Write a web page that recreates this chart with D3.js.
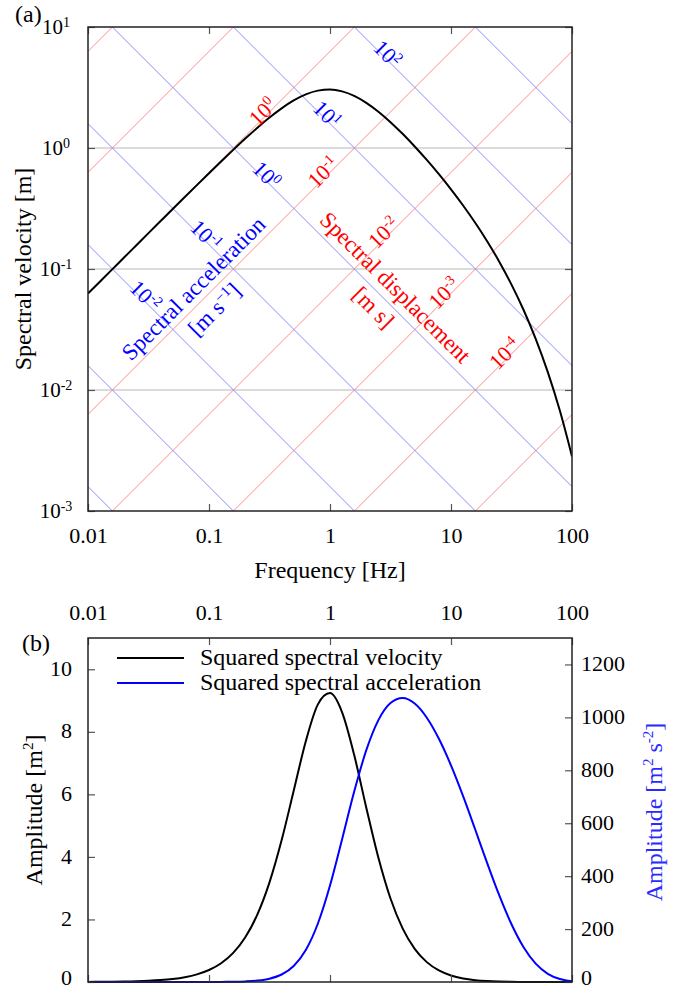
<!DOCTYPE html>
<html>
<head>
<meta charset="utf-8">
<script src="https://cdn.jsdelivr.net/npm/d3@7"></script>
<style>
body { margin: 0; background: #fff; }
svg, svg text { font-family: "Liberation Serif", "Times New Roman", Times, serif; }
</style>
</head>
<body>
<div id="chart"></div>
<script>
// values
let freq = [0.01, 0.01259, 0.01585, 0.01995, 0.02512, 0.03162, 0.03981, 0.05012, 0.0631, 0.07943,
    0.1, 0.1259, 0.1585, 0.1995, 0.2512, 0.3162, 0.3981, 0.5012, 0.631, 0.7943,
    1, 1.259, 1.585, 1.995, 2.512, 3.162, 3.981, 5.012, 6.31, 7.943,
    10, 12.59, 15.85, 19.95, 25.12, 31.62, 39.81, 50.12, 63.1, 79.43, 100];

let spectralVelocity = [0.0627, 0.0789, 0.0993, 0.125, 0.1573, 0.1979, 0.2489, 0.313, 0.3933, 0.4937,
    0.6189, 0.774, 0.9646, 1.1957, 1.47, 1.7849, 2.1282, 2.4728, 2.7748, 2.9794,
    3.0393, 2.9368, 2.694, 2.3609, 1.9932, 1.6342, 1.3095, 1.03, 0.7972, 0.6074,
    0.4553, 0.335, 0.2411, 0.1689, 0.1144, 0.07432, 0.04581, 0.02645, 0.01405, 0.006726, 0.002824];

let squaredVelocity = [0.0039, 0.0062, 0.0099, 0.0156, 0.0247, 0.0392, 0.062, 0.098, 0.1547, 0.2437,
    0.383, 0.5991, 0.9305, 1.4297, 2.1609, 3.1859, 4.5293, 6.1149, 7.6995, 8.8769,
    9.2375, 8.625, 7.2574, 5.574, 3.973, 2.6705, 1.7147, 1.0609, 0.6355, 0.369,
    0.2073, 0.1122, 0.0581, 0.0285, 0.0131, 0.0055, 0.0021, 0.0007, 0.0002, 0.00005, 0.00001];

let squaredAcceleration = [0.00002, 0.00004, 0.0001, 0.0002, 0.0006, 0.0015, 0.0039, 0.0097, 0.0243, 0.0607,
    0.151, 0.375, 0.923, 2.25, 5.38, 12.58, 28.34, 60.64, 121.0, 221.1,
    364.7, 539.7, 719.7, 876.1, 989.7, 1054.3, 1072.9, 1052.1, 998.7, 919.1,
    818.5, 702.1, 576.3, 448.2, 326.0, 218.1, 131.3, 69.4, 31.0, 11.3, 3.1];

let freqTicks = [0.01, 0.1, 1, 10, 100];
let freqLabels = ["0.01", "0.1", "1", "10", "100"];
let velTicks = [10, 1, 0.1, 0.01, 0.001];
let velExp = ["1", "0", "-1", "-2", "-3"];
let ampTicks = [0, 2, 4, 6, 8, 10];
let accAmpTicks = [0, 200, 400, 600, 800, 1000, 1200];

// constant displacement / acceleration guide lines
let dispLines = [1e-5, 1e-4, 1e-3, 1e-2, 1e-1, 1, 10, 100];
let accLines = [1e-4, 1e-3, 1e-2, 1e-1, 1, 10, 100, 1000];
let dispLabels = [1, 0.1, 0.01, 0.001, 0.0001];
let dispLabelExp = ["0", "-1", "-2", "-3", "-4"];
let accLabels = [100, 10, 1, 0.1, 0.01];
let accLabelExp = ["2", "1", "0", "-1", "-2"];

let W = 677, H = 990;
let twoPi = 2 * Math.PI;
let serif = "Liberation Serif, Times New Roman, Times, serif";

let svg = d3.select("#chart").append("svg")
    .attr("width", W)
    .attr("height", H)
    .attr("font-family", serif);

function power(sel, base, exp, supSize, raise) {
    sel.append("tspan").text(base);
    sel.append("tspan")
        .attr("dy", -raise)
        .attr("font-size", supSize)
        .text(exp);
}

function styleAxis(g, size) {
    g.attr("font-family", serif).attr("font-size", size);
    g.select(".domain").remove();
    g.selectAll(".tick line").attr("stroke", "#555").attr("stroke-width", 1.2);
    g.selectAll(".tick text").attr("fill", "#000").attr("font-family", serif);
}

// ---------- panel (a) ----------
let xA = d3.scaleLog().domain([0.01, 100]).range([88, 572]);
let yA = d3.scaleLog().domain([0.001, 10]).range([511, 27]);

svg.append("clipPath").attr("id", "clipA")
    .append("rect")
    .attr("x", 88).attr("y", 27)
    .attr("width", 484).attr("height", 484);

// horizontal grid
svg.append("g")
    .selectAll("line")
    .data([1, 0.1, 0.01])
    .join("line")
    .attr("x1", xA(0.01))
    .attr("x2", xA(100))
    .attr("y1", d => yA(d))
    .attr("y2", d => yA(d))
    .attr("stroke", "#cfcfcf")
    .attr("stroke-width", 1.5);

let diag = svg.append("g").attr("clip-path", "url(#clipA)");

diag.selectAll(".disp")
    .data(dispLines)
    .join("path")
    .attr("class", "disp")
    .attr("fill", "none")
    .attr("stroke", "#ff8c8c")
    .attr("stroke-width", 1)
    .attr("d", D => d3.line()
        .x(f => xA(f))
        .y(f => yA(twoPi * f * D))([0.01, 100]));

diag.selectAll(".acc")
    .data(accLines)
    .join("path")
    .attr("class", "acc")
    .attr("fill", "none")
    .attr("stroke", "#8c8cff")
    .attr("stroke-width", 1)
    .attr("d", A => d3.line()
        .x(f => xA(f))
        .y(f => yA(A / (twoPi * f)))([0.01, 100]));

// spectral velocity curve
svg.append("path")
    .datum(freq.map((f, i) => [f, spectralVelocity[i]]))
    .attr("clip-path", "url(#clipA)")
    .attr("fill", "none")
    .attr("stroke", "#000")
    .attr("stroke-width", 2)
    .attr("d", d3.line()
        .x(d => xA(d[0]))
        .y(d => yA(d[1]))
        .curve(d3.curveMonotoneX));

// line labels: red along displacement lines, blue along acceleration lines
dispLabels.forEach(function(D, i) {
    let Dp = D * 1.13, A = 3.48;
    let f = Math.sqrt(A / (Dp * twoPi * twoPi)), v = Math.sqrt(A * Dp);
    let t = svg.append("text")
        .attr("transform", `translate(${xA(f)},${yA(v)}) rotate(-45)`)
        .attr("text-anchor", "middle")
        .attr("y", 7)
        .attr("font-size", 22)
        .attr("fill", "#ff0000");
    power(t, "10", dispLabelExp[i], 14, 8);
});

accLabels.forEach(function(A, i) {
    let Ap = A * 1.11, D = 0.32;
    let f = Math.sqrt(Ap / (D * twoPi * twoPi)), v = Math.sqrt(Ap * D);
    let t = svg.append("text")
        .attr("transform", `translate(${xA(f)},${yA(v)}) rotate(45)`)
        .attr("text-anchor", "middle")
        .attr("y", 7)
        .attr("font-size", 22)
        .attr("fill", "#0000ff");
    power(t, "10", accLabelExp[i], 14, 8);
});

svg.append("text")
    .attr("transform", `translate(${xA(0.0752)},${yA(0.0684)}) rotate(-45)`)
    .attr("text-anchor", "middle")
    .attr("y", 7)
    .attr("font-size", 23)
    .attr("fill", "#0000ff")
    .text("Spectral acceleration");

let accUnit = svg.append("text")
    .attr("transform", `translate(${xA(0.1121)},${yA(0.0458)}) rotate(-45)`)
    .attr("text-anchor", "middle")
    .attr("y", 7)
    .attr("font-size", 23)
    .attr("fill", "#0000ff");
accUnit.append("tspan").text("[m s");
accUnit.append("tspan").attr("dy", -8).attr("font-size", 15).text("\u22121");
accUnit.append("tspan").attr("dy", 8).text("]");

svg.append("text")
    .attr("transform", `translate(${xA(3.44)},${yA(0.0697)}) rotate(45)`)
    .attr("text-anchor", "middle")
    .attr("y", 7)
    .attr("font-size", 23)
    .attr("fill", "#ff0000")
    .text("Spectral displacement");

svg.append("text")
    .attr("transform", `translate(${xA(2.265)},${yA(0.0476)}) rotate(45)`)
    .attr("text-anchor", "middle")
    .attr("y", 7)
    .attr("font-size", 23)
    .attr("fill", "#ff0000")
    .text("[m s]");

// Add X axis (a)
let gxA = svg.append("g")
    .attr("transform", "translate(0,511)")
    .call(d3.axisBottom(xA).tickValues(freqTicks).tickSize(-7).tickPadding(16)
        .tickFormat((d, i) => freqLabels[i]));
styleAxis(gxA, 22);

let gxAt = svg.append("g")
    .attr("transform", "translate(0,27)")
    .call(d3.axisTop(xA).tickValues(freqTicks).tickSize(-7).tickFormat(""));
styleAxis(gxAt, 22);

// Add Y axis (a)
let gyA = svg.append("g")
    .attr("transform", "translate(88,0)")
    .call(d3.axisLeft(yA).tickValues(velTicks).tickSize(-7).tickFormat(""));
styleAxis(gyA, 21);

let gyAr = svg.append("g")
    .attr("transform", "translate(572,0)")
    .call(d3.axisRight(yA).tickValues(velTicks).tickSize(-7).tickFormat(""));
styleAxis(gyAr, 21);

velTicks.forEach(function(v, i) {
    let t = svg.append("text")
        .attr("x", 56)
        .attr("y", yA(v) + 7)
        .attr("text-anchor", "middle")
        .attr("font-size", 21);
    power(t, "10", velExp[i], 14, 7);
});

svg.append("rect")
    .attr("x", 88).attr("y", 27)
    .attr("width", 484).attr("height", 484)
    .attr("fill", "none")
    .attr("stroke", "#222")
    .attr("stroke-width", 1.5);

svg.append("text")
    .attr("x", 15).attr("y", 22)
    .attr("font-size", 24)
    .text("(a)");

svg.append("text")
    .attr("transform", "translate(31,269) rotate(-90)")
    .attr("text-anchor", "middle")
    .attr("font-size", 24)
    .text("Spectral velocity [m]");

svg.append("text")
    .attr("x", 330).attr("y", 578)
    .attr("text-anchor", "middle")
    .attr("font-size", 24)
    .text("Frequency [Hz]");

// ---------- panel (b) ----------
let xB = d3.scaleLog().domain([0.01, 100]).range([88, 572]);
let yB = d3.scaleLinear().domain([0, 11]).range([982, 638]);
let yB2 = d3.scaleLinear().domain([0, 1300]).range([982, 638]);

svg.append("path")
    .datum(freq.map((f, i) => [f, squaredVelocity[i]]))
    .attr("fill", "none")
    .attr("stroke", "#000")
    .attr("stroke-width", 2)
    .attr("d", d3.line()
        .x(d => xB(d[0]))
        .y(d => yB(d[1]))
        .curve(d3.curveMonotoneX));

svg.append("path")
    .datum(freq.map((f, i) => [f, squaredAcceleration[i]]))
    .attr("fill", "none")
    .attr("stroke", "#0000ff")
    .attr("stroke-width", 2)
    .attr("d", d3.line()
        .x(d => xB(d[0]))
        .y(d => yB2(d[1]))
        .curve(d3.curveMonotoneX));

let gxB = svg.append("g")
    .attr("transform", "translate(0,638)")
    .call(d3.axisTop(xB).tickValues(freqTicks).tickSize(-7).tickPadding(18)
        .tickFormat((d, i) => freqLabels[i]));
styleAxis(gxB, 22);

let gxBb = svg.append("g")
    .attr("transform", "translate(0,982)")
    .call(d3.axisBottom(xB).tickValues(freqTicks).tickSize(-7).tickFormat(""));
styleAxis(gxBb, 22);

let gyB = svg.append("g")
    .attr("transform", "translate(88,0)")
    .call(d3.axisLeft(yB).tickValues(ampTicks).tickSize(-7).tickPadding(16)
        .tickFormat(d3.format("d")));
styleAxis(gyB, 22);

let gyB2 = svg.append("g")
    .attr("transform", "translate(572,0)")
    .call(d3.axisRight(yB2).tickValues(accAmpTicks).tickSize(-7).tickPadding(9)
        .tickFormat(d3.format("d")));
styleAxis(gyB2, 22);

// keep the zero labels inside the page
gyB.selectAll(".tick text").attr("dy", d => d === 0 ? "0.1em" : "0.28em");
gyB2.selectAll(".tick text").attr("dy", d => d === 0 ? "0.1em" : "0.28em");

svg.append("rect")
    .attr("x", 88).attr("y", 638)
    .attr("width", 484).attr("height", 344)
    .attr("fill", "none")
    .attr("stroke", "#222")
    .attr("stroke-width", 1.5);

// legend
let legend = [["Squared spectral velocity", "#000"], ["Squared spectral acceleration", "#0000ff"]];
legend.forEach(function(l, i) {
    let ly = 658 + i * 25;
    svg.append("line")
        .attr("x1", 117).attr("x2", 184)
        .attr("y1", ly).attr("y2", ly)
        .attr("stroke", l[1])
        .attr("stroke-width", 2);
    svg.append("text")
        .attr("x", 200).attr("y", ly + 7)
        .attr("font-size", 24)
        .text(l[0]);
});

svg.append("text")
    .attr("x", 22).attr("y", 651)
    .attr("font-size", 24)
    .text("(b)");

let ampLabel = svg.append("text")
    .attr("transform", "translate(42,810) rotate(-90)")
    .attr("text-anchor", "middle")
    .attr("font-size", 24);
ampLabel.append("tspan").text("Amplitude  [m");
ampLabel.append("tspan").attr("dy", -9).attr("font-size", 15).text("2");
ampLabel.append("tspan").attr("dy", 9).text("]");

let accLabel = svg.append("text")
    .attr("transform", "translate(662,812) rotate(-90)")
    .attr("text-anchor", "middle")
    .attr("font-size", 24)
    .attr("fill", "#2a2aff");
accLabel.append("tspan").text("Amplitude  [m");
accLabel.append("tspan").attr("dy", -9).attr("font-size", 15).text("2");
accLabel.append("tspan").attr("dy", 9).text(" s");
accLabel.append("tspan").attr("dy", -9).attr("font-size", 15).text("-2");
accLabel.append("tspan").attr("dy", 9).text("]");
</script>
</body>
</html>
